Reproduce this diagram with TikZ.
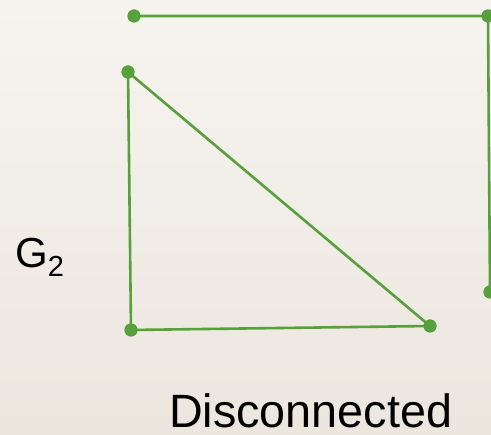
\documentclass[tikz,border=0pt]{standalone}
\usepackage{fontspec}
\setmainfont{Liberation Sans}
\definecolor{edgegreen}{RGB}{86,161,58}
\definecolor{bgtop}{RGB}{247,244,240}
\definecolor{bgbot}{RGB}{235,230,222}
\begin{document}
\begin{tikzpicture}[x=1pt,y=-1pt,
  vtx/.style={circle,fill=edgegreen,inner sep=0pt,minimum size=13pt},
  edge/.style={draw=edgegreen,line width=2.6pt},
  lbl/.style={inner sep=0pt,anchor=base west}]
\shade[top color=bgtop,bottom color=bgbot] (0,0) rectangle (491,435);
\useasboundingbox (0,0) rectangle (491,435);
\node[vtx] (t1) at (134,16) {};
\node[vtx] (t2) at (488,16) {};
\node[vtx] (t3) at (490,292) {};
\node[vtx] (a) at (128,72) {};
\node[vtx] (b) at (131,330) {};
\node[vtx] (c) at (430,326) {};
\draw[edge] (t1.center) -- (t2.center) -- (t3.center);
\draw[edge] (a.center) -- (b.center) -- (c.center) -- (a.center);
\node[vtx] at (t1) {};
\node[vtx] at (t2) {};
\node[vtx] at (t3) {};
\node[vtx] at (a) {};
\node[vtx] at (b) {};
\node[vtx] at (c) {};
\node[lbl,font=\fontsize{42}{50}\selectfont] (g) at (15,268) {G\raisebox{-9pt}{\fontsize{29}{34}\selectfont 2}};
\node[lbl,text depth=0pt,font=\fontsize{46.7}{56}\selectfont] (d) at (169,428) {Disconnected};
\end{tikzpicture}
\end{document}
